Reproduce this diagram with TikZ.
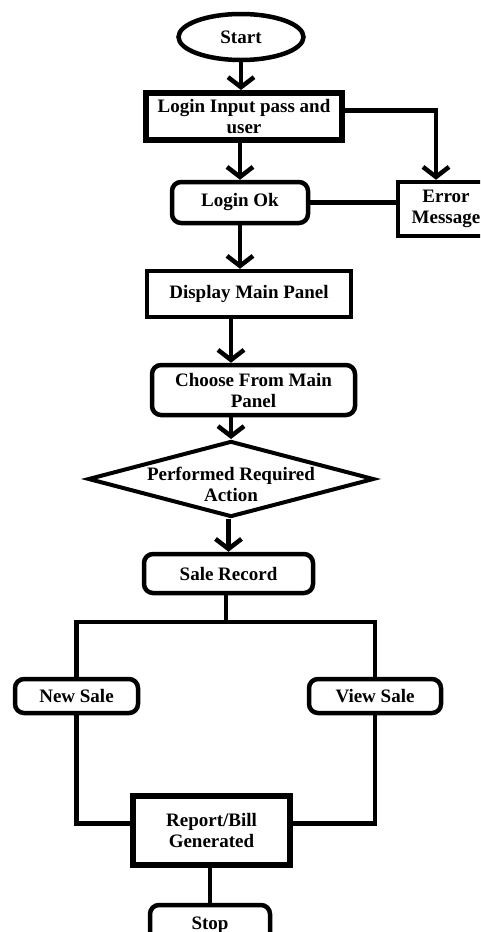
\documentclass[tikz,border=0pt]{standalone}
\usepackage{fontspec}
\setmainfont{Liberation Serif}
\usetikzlibrary{arrows.meta}
\usetikzlibrary{shapes.geometric}

\begin{document}
\begin{tikzpicture}[
        x=1pt, y=-1pt,
        every node/.style={font=\fontsize{19}{21}\selectfont\bfseries, align=center},
        termbox/.style={ellipse,draw,line width=4.5pt,minimum width=125,minimum height=46,inner sep=0},
        plainbox/.style={rectangle,draw,line width=4.5pt,inner sep=0},
        roundbox/.style={rectangle,rounded corners=9pt,draw,line width=4.5pt,inner sep=0},
        decision/.style={diamond,draw,line width=4pt,minimum width=286,minimum height=76,inner sep=0},
        flow/.style={line width=4.5pt,-{Straight Barb[length=10pt,width=26pt]}},
        link/.style={line width=4.5pt},
        ]
        \clip (0,0) rectangle (480,932);

        \node[termbox](start) at (241,37){Start};
        \node[plainbox,line width=6pt,minimum width=196,minimum height=47](login) at (244,116.5){Login Input pass and\\user};
        \node[roundbox,minimum width=136,minimum height=41](loginok) at (240,202.5){Login Ok};
        \node[plainbox,minimum width=96,minimum height=54](error) at (446,209){Error\\Message};
        \node[plainbox,minimum width=204,minimum height=46](display) at (249,294){Display Main Panel};
        \node[roundbox,minimum width=203,minimum height=50](choose) at (253.5,390){Choose From Main\\Panel};
        \node[decision,label={[yshift=-5pt]center:Performed Required\\Action}](action) at (231,479){};
        \node[roundbox,minimum width=169,minimum height=39](sale) at (228.5,573.5){Sale Record};
        \coordinate (split) at (226,622);
        \node[roundbox,minimum width=123,minimum height=34](newsale) at (76.5,696){New Sale};
        \node[roundbox,minimum width=132,minimum height=34](viewsale) at (375,696){View Sale};
        \node[plainbox,line width=6pt,minimum width=157,minimum height=69](report) at (211.5,830.5){Report/Bill\\Generated};
        \node[roundbox,minimum width=120,minimum height=40](stop) at (210,925){Stop};

        % main column
        \draw[flow] (start.south) -- (start.south |- login.north);
        \draw[flow] (loginok.north |- login.south) -- (loginok.north);
        \draw[flow] ([yshift=6pt]login.east) -| ([xshift=-10pt]error.north);
        \draw[link] (loginok.east) -- (loginok.east -| error.west);
        \draw[flow] (loginok.south) -- (loginok.south |- display.north);
        \draw[flow] (action.north |- display.south) -- (action.north |- choose.north);
        \draw[flow] (action.north |- choose.south) -- (action.north);
        \draw[flow] (sale.north |- action.south) -- (sale.north);

        % split into the two sale panels
        \draw[link] (sale.south -| split) -- (split);
        \draw[link] (newsale.north) |- (split) -| (viewsale.north);
        \draw[link] (newsale.south) |- ([yshift=7pt]report.west);
        \draw[link] (viewsale.south) |- ([yshift=7pt]report.east);
        \draw[link] (stop.north |- report.south) -- (stop.north);
        % \draw[flow] (report.south) -- (stop.north);

\end{tikzpicture}
\end{document}
